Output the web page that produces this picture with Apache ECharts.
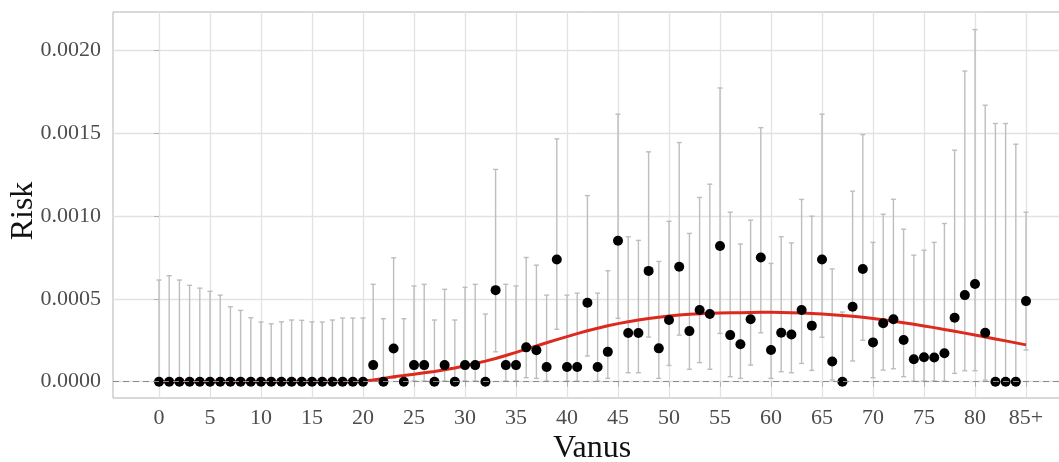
<!DOCTYPE html>
<html><head><meta charset="utf-8">
<script src="https://cdn.jsdelivr.net/npm/echarts@6/dist/echarts.min.js"></script>
<style>html,body{margin:0;padding:0;background:#fff}#c{width:1059px;height:462px}</style>
</head><body><div id="c"></div>
<script>
const ages = ["0","1","2","3","4","5","6","7","8","9","10","11","12","13","14","15","16","17","18","19",
"20","21","22","23","24","25","26","27","28","29","30","31","32","33","34","35","36","37","38","39",
"40","41","42","43","44","45","46","47","48","49","50","51","52","53","54","55","56","57","58","59",
"60","61","62","63","64","65","66","67","68","69","70","71","72","73","74","75","76","77","78","79",
"80","81","82","83","84","85+"];
const risk = [0,0,0,0,0,0,0,0,0,0,0,0,0,0,0,0,0,0,0,0,
0,0.0001,0,0.0002,0,0.0001,0.0001,0,0.0001,0,0.0001,0.0001,0,0.000552,0.0001,0.0001,0.000207,0.00019,0.000089,0.000737,
0.000089,0.000089,0.000476,0.000089,0.00018,0.00085,0.000294,0.000294,0.000668,0.000201,0.000372,0.000693,0.000305,0.000432,0.000408,0.000818,0.000281,0.000226,0.000376,0.000749,
0.000191,0.000295,0.000285,0.000432,0.000338,0.000737,0.000122,0,0.000452,0.000679,0.000237,0.000352,0.000376,0.000251,0.000135,0.000147,0.000146,0.000171,0.000386,0.000522,
0.000589,0.000295,0,0,0,0.000486];
const lower = [0,0,0,0,0,0,0,0,0,0,0,0,0,0,0,0,0,0,0,0,
0,0.000005,0,0.00002,0,0.000005,0.000005,0,0.000005,0,0.000005,0.000005,0,0.00018,0.000005,0.000005,0.000024,0.00002,0.000003,0.000316,
0.000003,0.000003,0.000155,0.000003,0.00002,0.000382,0.000054,0.000054,0.000269,0.00002,0.000098,0.000281,0.000075,0.000115,0.000075,0.000291,0.00003,0.00002,0.0001,0.000295,
0.00002,0.00006,0.000054,0.00011,0.000068,0.000268,0.00001,0,0.000125,0.00025,0.000024,0.00007,0.000078,0.00003,0.000003,0.000005,0.000005,0.000003,0.00005,0.000066,
0.000066,0.00001,0,0,0,0.000191];
const upper = [0.000613,0.000639,0.000613,0.000581,0.000564,0.000545,0.000522,0.000452,0.00043,0.000386,0.00036,0.000349,0.000361,0.000372,0.00037,0.000361,0.00036,0.000372,0.000384,0.000384,
0.000384,0.000587,0.00038,0.000747,0.00038,0.000577,0.000587,0.000372,0.000557,0.000372,0.000569,0.000587,0.000408,0.00128,0.000587,0.000577,0.000749,0.000703,0.000522,0.001464,
0.000522,0.000534,0.001122,0.000534,0.000669,0.001613,0.000874,0.000852,0.001386,0.000725,0.000967,0.001442,0.000894,0.001111,0.001191,0.001771,0.001022,0.00083,0.000974,0.001532,
0.000713,0.000874,0.000837,0.001099,0.000998,0.001613,0.00068,0.00042,0.001149,0.00149,0.00084,0.00101,0.0011,0.00092,0.000763,0.000793,0.00084,0.000954,0.001396,0.001873,
0.002123,0.001667,0.001557,0.001557,0.001432,0.001022];
const trend = [0,0,0,0,0,0,0,0,0,0,0,0,0,0,0,0,0,0,0,0,
0.000003,0.00001,0.00002,0.00003,0.000037,0.000045,0.000054,0.000062,0.000072,0.000083,0.000096,0.00011,0.000124,0.00014,0.000158,0.000177,0.000196,0.000215,0.000235,0.000254,
0.000272,0.00029,0.000307,0.000322,0.000337,0.00035,0.000362,0.000372,0.000381,0.000389,0.000396,0.000402,0.000406,0.00041,0.000412,0.000414,0.000415,0.000416,0.000417,0.000418,
0.000418,0.000417,0.000416,0.000414,0.000411,0.000408,0.000404,0.000399,0.000394,0.000388,0.000381,0.000373,0.000365,0.000356,0.000346,0.000336,0.000326,0.000315,0.000304,0.000293,
0.000281,0.00027,0.000258,0.000246,0.000234,0.000222];
const xTicks = [0,5,10,15,20,25,30,35,40,45,50,55,60,65,70,75,80,85];
const yTicks = [0,0.0005,0.001,0.0015,0.002];

const FONT = '"Liberation Serif","Times New Roman",serif';
const chart = echarts.init(document.getElementById('c'), null, {renderer:'canvas'});
const option = {
  animation:false,
  backgroundColor:'#ffffff',
  grid:{left:113, top:12, right:-2, bottom:64, show:true, borderColor:'#B3B3B3', borderWidth:1,
        backgroundColor:'transparent', containLabel:false, outerBoundsMode:'none'},
  xAxis:{type:'value', min:-4.51, max:88.43,
    axisLine:{show:false},
    axisTick:{show:true, length:5, lineStyle:{color:'#B3B3B3', width:1}, customValues:xTicks},
    axisLabel:{customValues:xTicks, formatter:(v)=>ages[Math.round(v)], fontFamily:FONT, fontSize:22, color:'#4D4D4D', margin:9},
    splitLine:{show:true, lineStyle:{color:'#E2E2E2', width:1.3}}},
  yAxis:{type:'value', min:-0.0000983, max:0.0022291,
    axisLine:{show:false},
    axisTick:{show:true, length:5, lineStyle:{color:'#B3B3B3', width:1}, customValues:yTicks},
    axisLabel:{customValues:yTicks, formatter:(v)=>v.toFixed(4), fontFamily:FONT, fontSize:22, color:'#4D4D4D', margin:12},
    splitLine:{show:true, lineStyle:{color:'#E2E2E2', width:1.3}}},
  graphic:[
    {type:'text', x:24, y:211, rotation:Math.PI/2, style:{text:'Risk', font:'32px "Liberation Serif"', fill:'#111', align:'center', verticalAlign:'middle'}},
    {type:'text', x:592, y:449, style:{text:'Vanus', font:'32px "Liberation Serif"', fill:'#111', align:'center', verticalAlign:'middle'}}
  ],
  series:[
    {type:'line', data:[], z:1, silent:true,
     markLine:{silent:true, symbol:'none', label:{show:false}, animation:false,
       lineStyle:{type:[6,4], color:'#8C8C8C', width:1.2}, data:[{yAxis:0}]}},
    {type:'custom', z:2, silent:true, clip:false,
     data: ages.map((a,i)=>[i, lower[i], upper[i]]),
     encode:{x:0, y:[1,2]},
     renderItem:(params, api)=>{
       const x = api.value(0);
       const lo = api.coord([x, api.value(1)]);
       const hi = api.coord([x, api.value(2)]);
       const w = 2.5;
       const st = {stroke:'#BDBDBD', lineWidth:1.4, fill:null};
       return {type:'group', children:[
         {type:'line', shape:{x1:lo[0], y1:lo[1], x2:hi[0], y2:hi[1]}, style:st},
         {type:'line', shape:{x1:hi[0]-w, y1:hi[1], x2:hi[0]+w, y2:hi[1]}, style:st},
         {type:'line', shape:{x1:lo[0]-w, y1:lo[1], x2:lo[0]+w, y2:lo[1]}, style:st}
       ]};
     }},
    {type:'line', z:3, silent:true, data: ages.map((a,i)=>[i, trend[i]]), symbol:'none', showSymbol:false,
     lineStyle:{color:'#DC2A1F', width:3}},
    {type:'scatter', z:4, silent:true, data: ages.map((a,i)=>[i, risk[i]]), symbolSize:10,
     itemStyle:{color:'#000000', opacity:1}}
  ]
};
chart.setOption(option);
</script>
</body></html>
